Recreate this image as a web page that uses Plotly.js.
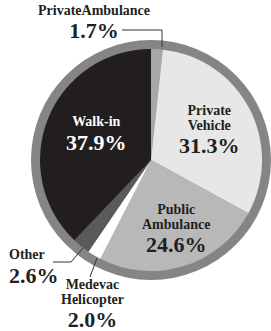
<!DOCTYPE html>
<html>
<head>
<meta charset="utf-8">
<script src="https://cdn.plot.ly/plotly-3.0.1.min.js"></script>
<style>html,body{margin:0;padding:0;overflow:hidden;background:#fff}#chart{width:271px;height:331px}</style>
</head>
<body>
<div id="chart"></div>
<script>
// Data
const categories = ["Private Ambulance", "Private Vehicle", "Public Ambulance", "Medevac Helicopter", "Other", "Walk-in"];
const shares = [1.7, 31.3, 24.6, 2.0, 2.6, 37.9];
const sliceColors = ["#a8a8a8", "#e7e7e7", "#b8b8b8", "#ffffff", "#5a5a5a", "#221e1f"];
const pctLabels = ["1.7%", "31.3%", "24.6%", "2.0%", "2.6%", "37.9%"];
const nameLines = [["PrivateAmbulance"], ["Private", "Vehicle"], ["Public", "Ambulance"], ["Medevac", "Helicopter"], ["Other"], ["Walk-in"]];

const W = 271, H = 331;
const px = x => x / W;
const py = y => 1 - y / H;

// Pie geometry (pixels)
const cx = 151, cy = 160, rOuter = 120, rInner = 111;
const dom = r => ({x: [px(cx - r), px(cx + r)], y: [py(cy + r), py(cy - r)]});

const ring = {
  type: 'pie', values: [1], labels: ['ring'], marker: {colors: ['#858585']},
  domain: dom(rOuter), textinfo: 'none', hoverinfo: 'skip', sort: false, showlegend: false
};
const pie = {
  type: 'pie', values: shares, labels: categories, marker: {colors: sliceColors, line: {width: 0}},
  domain: dom(rInner), textinfo: 'none', sort: false, direction: 'clockwise', rotation: 0, showlegend: false
};

const F = "Liberation Serif, Times New Roman, serif";
const S = 14, L = 22;
// one annotation per slice label; gaps are counted in small blank lines of size `unit`
function group(i, x, yTop, unit, gaps, color, align) {
  const parts = nameLines[i].map(t => '<span style="font-size:' + S + 'px">' + t + '</span>');
  parts.push('<span style="font-size:' + L + 'px">' + pctLabels[i] + '</span>');
  let text = parts[0];
  for (let k = 1; k < parts.length; k++) text += '<br>'.repeat(gaps[k - 1]) + parts[k];
  return {text: text, x: px(x), y: py(yTop), xref: 'paper', yref: 'paper', showarrow: false,
    xanchor: align === 'left' ? 'left' : 'center', yanchor: 'top', align: align || 'center',
    font: {family: F, size: unit / 1.3, color: color || '#231f20', weight: 'bold'}};
}
const annotations = [
  group(0, 93.5, 14.5 - 13.5, 23, [1]),
  group(1, 209, 114.5 - 13.5, 7.5, [2, 3]),
  group(2, 176, 213.5 - 13.5, 7.5, [2, 3]),
  group(3, 92, 288 - 13.5, 7.5, [2, 3]),
  group(4, 7, 258 - 13.5, 24, [1], null, 'left'),
  group(5, 96, 125 - 13.5, 24, [1], '#ffffff')
];

function leader(pts) {
  return {type: 'path', xref: 'paper', yref: 'paper',
    path: pts.map((p, i) => (i ? 'L' : 'M') + px(p[0]) + ',' + py(p[1])).join(' '),
    line: {color: '#333333', width: 1}};
}
const shapes = [
  leader([[122, 30], [162, 30], [162, 47]]),
  leader([[53, 262], [71, 262], [83, 248]]),
  leader([[90, 277], [97, 258]])
];

Plotly.newPlot('chart', [ring, pie], {
  width: W, height: H, margin: {l: 0, r: 0, t: 0, b: 0},
  paper_bgcolor: '#ffffff', annotations: annotations, shapes: shapes
}, {staticPlot: true});
</script>
</body>
</html>
